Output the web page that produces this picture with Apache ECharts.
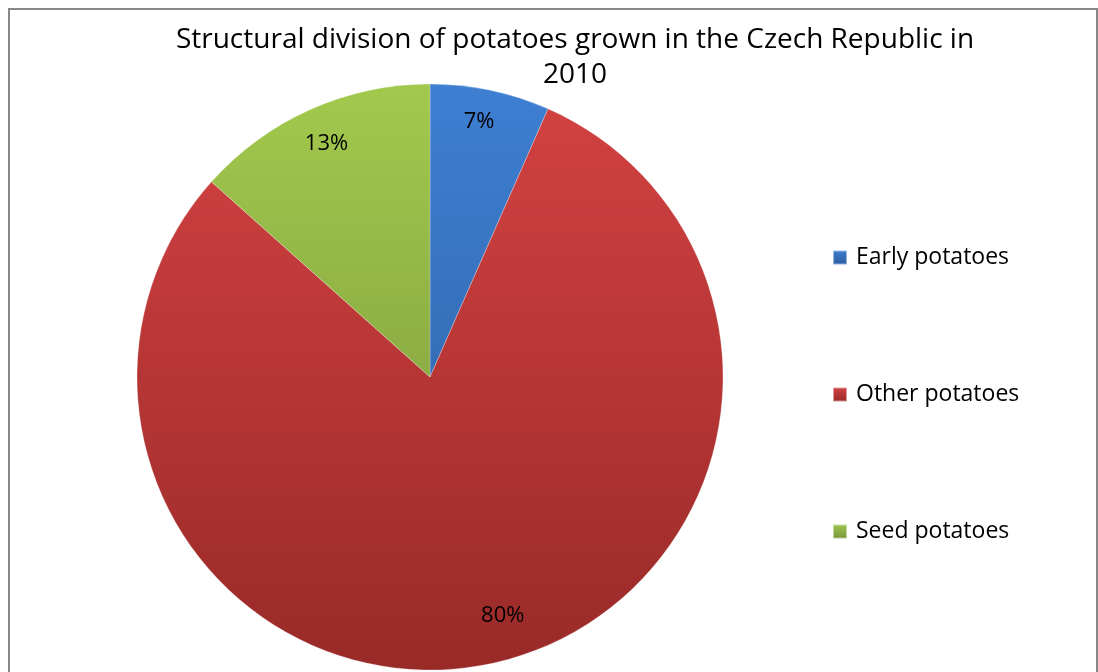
<!DOCTYPE html>
<html>
<head>
<meta charset="utf-8">
<script src="https://cdn.jsdelivr.net/npm/echarts@6/dist/echarts.min.js"></script>
<style>html,body{margin:0;padding:0;background:#fff;}#c{width:1098px;height:672px;}</style>
</head>
<body>
<div id="c"></div>
<script>
const titleText = 'Structural division of potatoes grown in the Czech Republic in\n2010';
const categories = ['Early potatoes', 'Other potatoes', 'Seed potatoes'];
const values = [6.6, 80.0, 13.4];

// styling (not data)
const topColors = ['#3e7fd2', '#d44242', '#a2c94d'];
const bottomColors = ['#2b5c9c', '#982a28', '#75913a'];
const labelNudges = [[-5, 2], [17, -18], [4, 7]];

const FONT = '"Open Sans", Lato, sans-serif';
const cx = 430, cy = 377, R = 293;

function grad(i, global) {
  if (global) {
    return new echarts.graphic.LinearGradient(0, cy - R, 0, cy + R, [
      {offset: 0, color: topColors[i]}, {offset: 1, color: bottomColors[i]}
    ], true);
  }
  return new echarts.graphic.LinearGradient(0, 0, 0, 1, [
    {offset: 0, color: topColors[i]}, {offset: 1, color: bottomColors[i]}
  ]);
}

const chart = echarts.init(document.getElementById('c'), null, {renderer: 'canvas'});
chart.setOption({
  animation: false,
  backgroundColor: '#fff',
  title: {
    text: titleText,
    left: 570, top: 18, textAlign: 'center',
    textStyle: {fontFamily: FONT, fontSize: 28, fontWeight: 'normal', color: '#000', lineHeight: 35}
  },
  graphic: [{
    type: 'rect', silent: true, z: 100,
    shape: {x: 9, y: 9, width: 1088, height: 700},
    style: {fill: 'none', stroke: '#878787', lineWidth: 2}
  }],
  legend: {
    orient: 'vertical', left: 827, top: 241,
    itemWidth: 14, itemHeight: 14, itemGap: 114, icon: 'rect',
    textStyle: {fontFamily: FONT, fontSize: 23, color: '#000', padding: [0, 0, 0, 4]},
    data: categories.map((c, i) => ({name: c, itemStyle: {color: grad(i, false)}}))
  },
  series: [{
    type: 'pie', center: [cx, cy], radius: [0, R],
    startAngle: 90, clockwise: true,
    label: {show: false}, labelLine: {show: false},
    itemStyle: {borderWidth: 0.5, borderColor: 'rgba(255,255,255,0.5)'},
    emphasis: {disabled: true},
    data: categories.map((c, i) => ({name: c, value: values[i], itemStyle: {color: grad(i, true)}}))
  }, {
    type: 'pie', center: [cx, cy], radius: [226, 294],
    startAngle: 90, clockwise: true, silent: true, z: 5,
    itemStyle: {color: 'rgba(0,0,0,0)'},
    emphasis: {disabled: true},
    label: {
      show: true, position: 'inside',
      formatter: p => Math.round(p.value) + '%',
      fontFamily: FONT, fontSize: 22, color: '#000'
    },
    labelLine: {show: false},
    data: categories.map((c, i) => ({name: c, value: values[i], label: {offset: labelNudges[i]}}))
  }]
});
</script>
</body>
</html>
